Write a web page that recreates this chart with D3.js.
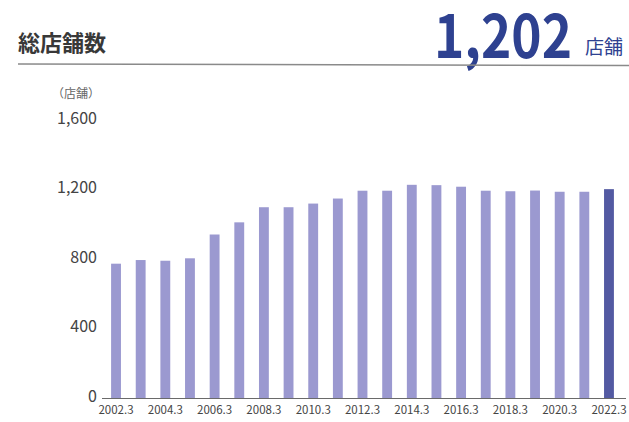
<!DOCTYPE html>
<html lang="ja">
<head>
<meta charset="utf-8">
<script src="https://cdn.jsdelivr.net/npm/d3@7"></script>
<style>
  html, body { margin: 0; padding: 0; background: #ffffff; }
  svg { display: block; }
  text { font-family: "Noto Sans CJK JP", "Noto Sans", sans-serif; }
</style>
</head>
<body>
<svg id="chart" width="629" height="422"></svg>
<script>
// 決算期（各年3月期）
const periods = ["2002.3","2003.3","2004.3","2005.3","2006.3","2007.3","2008.3",
  "2009.3","2010.3","2011.3","2012.3","2013.3","2014.3","2015.3","2016.3",
  "2017.3","2018.3","2019.3","2020.3","2021.3","2022.3"];
// 総店舗数
const storeCounts = [773, 794, 790, 804, 941, 1011, 1098, 1098, 1119, 1148, 1193,
  1193, 1227, 1225, 1216, 1193, 1190, 1194, 1187, 1187, 1202];
const yTicks = [0, 400, 800, 1200, 1600];
const xTickLabels = ["2002.3","2004.3","2006.3","2008.3","2010.3","2012.3",
  "2014.3","2016.3","2018.3","2020.3","2022.3"];
const latestValue = storeCounts[storeCounts.length - 1];

const svg = d3.select("#chart");

// 見出し
svg.append("text")
  .attr("x", 18).attr("y", 51)
  .attr("font-size", 22).attr("font-weight", 700)
  .attr("fill", "#383838")
  .text("総店舗数");

// 最新期の店舗数（幅を詰めた太字数字）
const bigNumber = svg.append("text")
  .attr("x", 0).attr("y", 0)
  .attr("font-family", "Roboto, 'Noto Sans', sans-serif")
  .attr("font-size", 60).attr("font-weight", 700)
  .attr("fill", "#2e4190")
  .text(d3.format(",")(latestValue));
const naturalWidth = bigNumber.node().getComputedTextLength();
bigNumber.attr("transform", `translate(434,57.5) scale(${138 / naturalWidth},1)`);

svg.append("text")
  .attr("x", 585).attr("y", 54)
  .attr("font-size", 19)
  .attr("fill", "#2e4190")
  .text("店舗");

svg.append("line")
  .attr("x1", 18).attr("x2", 629)
  .attr("y1", 64).attr("y2", 65.5)
  .attr("stroke", "#8a8a8a").attr("stroke-width", 1.5);

// 軸とスケール
const x = d3.scaleBand()
  .domain(periods)
  .range([103.7, 621.3])
  .paddingInner(0.6)
  .paddingOuter(0.3);

const y = d3.scaleLinear()
  .domain([0, 1600])
  .range([398, 120]);

// 単位
svg.append("text")
  .attr("x", 100).attr("y", 98)
  .attr("text-anchor", "end")
  .attr("font-size", 12)
  .attr("fill", "#666")
  .text("（店舗）");

// Y軸目盛
const yAxis = svg.append("g")
  .attr("transform", "translate(97,0)")
  .call(d3.axisLeft(y).tickValues(yTicks).tickSize(0).tickPadding(0)
    .tickFormat(d3.format(",")));
yAxis.select(".domain").remove();
yAxis.selectAll("text")
  .attr("font-family", "'Noto Sans', sans-serif")
  .attr("font-size", 16)
  .attr("fill", "#444")
  .attr("dy", "0.2em");

// 棒
svg.append("g")
  .selectAll("rect")
  .data(periods.map((p, i) => ({ period: p, value: storeCounts[i], last: i === periods.length - 1 })))
  .join("rect")
  .attr("x", d => x(d.period))
  .attr("y", d => y(d.value))
  .attr("width", x.bandwidth())
  .attr("height", d => y(0) - y(d.value))
  .attr("fill", d => d.last ? "#535aa2" : "#9b99d0");

// 基線
svg.append("line")
  .attr("x1", 102).attr("x2", 626)
  .attr("y1", y(0) + 0.5).attr("y2", y(0) + 0.5)
  .attr("stroke", "#6a6a6a").attr("stroke-width", 1);

// X軸目盛
const xAxis = svg.append("g")
  .attr("transform", `translate(0,${y(0)})`)
  .call(d3.axisBottom(x).tickValues(xTickLabels).tickSize(0).tickPadding(14));
xAxis.select(".domain").remove();
xAxis.selectAll("text")
  .attr("font-family", "'Noto Sans', sans-serif")
  .attr("font-size", 11.5)
  .attr("fill", "#444")
  .attr("dy", "0.2em");
</script>
</body>
</html>
